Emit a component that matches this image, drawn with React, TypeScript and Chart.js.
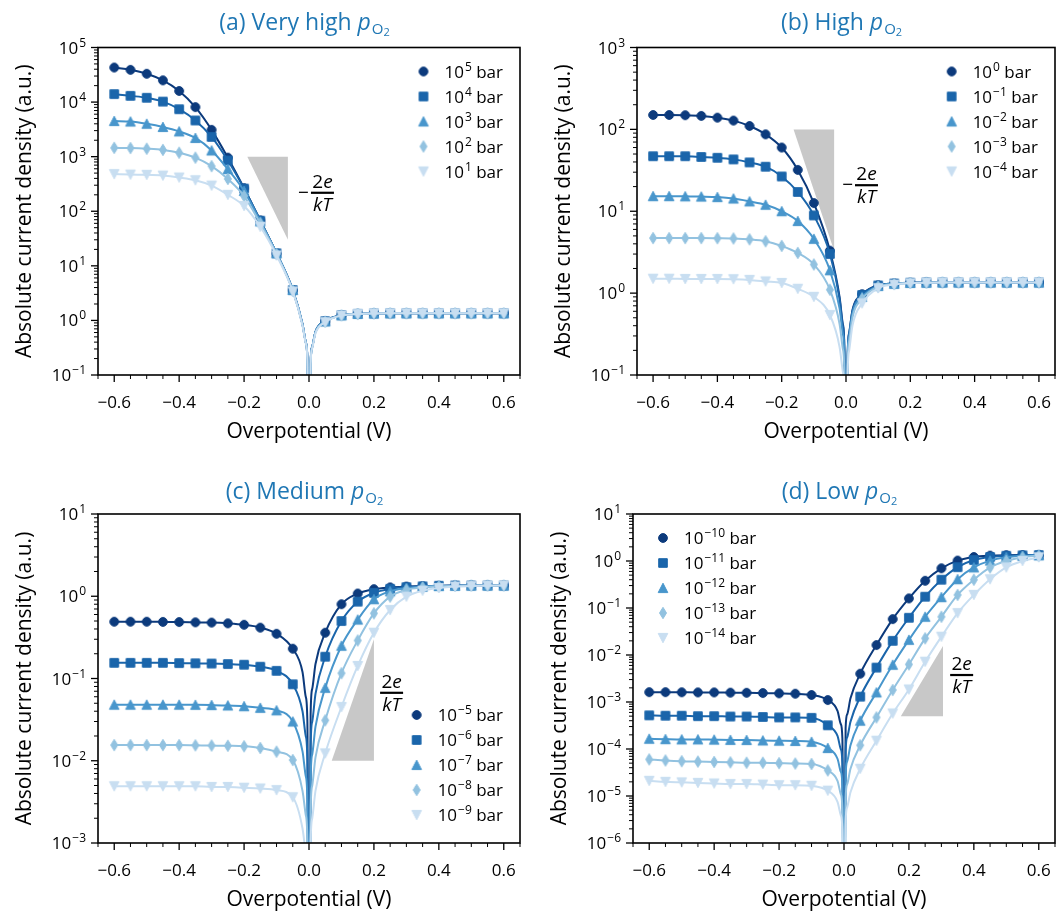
import React, { useEffect, useRef } from "react";
import { Chart, registerables } from "chart.js";
Chart.register(...registerables);

const FONT = "'Open Sans', 'DejaVu Sans', sans-serif";
const TITLE_COLOR = "#1f77b4";
const SERIES_COLORS = ["#0c3a7c", "#1a65ab", "#4896cc", "#92c2e0", "#c8def1"];
const SHAPES = ["circle", "square", "triangle", "diamond", "down"];

// ---------- shared axes ----------
const markerX = [-0.6, -0.55, -0.5, -0.45, -0.4, -0.35, -0.3, -0.25, -0.2, -0.15, -0.1, -0.05,
  0.05, 0.1, 0.15, 0.2, 0.25, 0.3, 0.35, 0.4, 0.45, 0.5, 0.55, 0.6];
const nearX = [-0.02, -0.01, -0.005, 0, 0.005, 0.01, 0.02];
const xMajorTicks = [-0.6, -0.4, -0.2, 0, 0.2, 0.4, 0.6];
const xTickLabels = ["\u22120.6", "\u22120.4", "\u22120.2", "0.0", "0.2", "0.4", "0.6"];
const xMinorTicks = [-0.65, -0.55, -0.5, -0.45, -0.35, -0.3, -0.25, -0.15, -0.1, -0.05,
  0.05, 0.1, 0.15, 0.25, 0.3, 0.35, 0.45, 0.5, 0.55, 0.65];

// ---------- (a) very high pO2 ----------
const aLegendExps = ["5", "4", "3", "2", "1"];
const aS1 = [43000, 39000, 33000, 25000, 16000, 8100, 3100, 960, 265, 68, 17, 3.6, 0.97, 1.25, 1.32, 1.34, 1.35, 1.35, 1.35, 1.35, 1.35, 1.35, 1.35, 1.35];
const aS2 = [14000, 13000, 12000, 10200, 7400, 4600, 2300, 850, 260, 67, 17, 3.6, 0.97, 1.25, 1.32, 1.34, 1.35, 1.35, 1.35, 1.35, 1.35, 1.35, 1.35, 1.35];
const aS3 = [4500, 4400, 4000, 3500, 2900, 2200, 1300, 590, 235, 65, 17, 3.6, 0.96, 1.24, 1.32, 1.34, 1.35, 1.35, 1.35, 1.35, 1.35, 1.35, 1.35, 1.35];
const aS4 = [1450, 1440, 1400, 1330, 1180, 960, 670, 390, 190, 60, 16.5, 3.5, 0.95, 1.24, 1.31, 1.34, 1.35, 1.35, 1.35, 1.35, 1.35, 1.35, 1.35, 1.35];
const aS5 = [480, 470, 465, 450, 415, 370, 295, 200, 125, 52, 15.5, 3.4, 0.93, 1.23, 1.31, 1.34, 1.35, 1.35, 1.35, 1.35, 1.35, 1.35, 1.35, 1.35];
const aN1 = [0.85, 0.4, 0.2, 1e-4, 0.17, 0.33, 0.62];
const aN2 = [0.85, 0.4, 0.2, 1e-4, 0.17, 0.33, 0.62];
const aN3 = [0.85, 0.4, 0.2, 1e-4, 0.17, 0.33, 0.62];
const aN4 = [0.83, 0.39, 0.19, 1e-4, 0.16, 0.32, 0.6];
const aN5 = [0.8, 0.38, 0.19, 1e-4, 0.16, 0.31, 0.58];
const aSlopeTriangle = [[-0.19, 1000], [-0.065, 1000], [-0.065, 30]];

// ---------- (b) high pO2 ----------
const bLegendExps = ["0", "\u22121", "\u22122", "\u22123", "\u22124"];
const bS1 = [150, 150, 149, 146, 139, 128, 110, 87, 60, 32, 12.6, 3.3, 0.97, 1.25, 1.31, 1.34, 1.35, 1.35, 1.35, 1.35, 1.35, 1.35, 1.35, 1.35];
const bS2 = [47, 47, 47, 46, 45, 43, 39.5, 35, 26.6, 17.2, 8.9, 3.0, 0.95, 1.24, 1.31, 1.34, 1.35, 1.35, 1.35, 1.35, 1.35, 1.35, 1.35, 1.35];
const bS3 = [15.3, 15.3, 15.2, 15.1, 14.9, 14.3, 13.2, 12.0, 10.0, 7.6, 4.6, 1.9, 0.9, 1.22, 1.3, 1.33, 1.34, 1.35, 1.35, 1.35, 1.35, 1.35, 1.35, 1.35];
const bS4 = [4.7, 4.7, 4.7, 4.7, 4.68, 4.65, 4.54, 4.3, 3.77, 3.1, 2.24, 1.1, 0.85, 1.2, 1.29, 1.33, 1.34, 1.35, 1.35, 1.35, 1.35, 1.35, 1.35, 1.35];
const bS5 = [1.5, 1.5, 1.49, 1.49, 1.49, 1.48, 1.45, 1.39, 1.33, 1.13, 0.9, 0.54, 0.75, 1.15, 1.27, 1.32, 1.34, 1.35, 1.35, 1.35, 1.35, 1.35, 1.35, 1.35];
const bN1 = [0.9, 0.42, 0.21, 1e-4, 0.17, 0.33, 0.62];
const bN2 = [0.85, 0.4, 0.2, 1e-4, 0.16, 0.32, 0.6];
const bN3 = [0.65, 0.32, 0.16, 1e-4, 0.15, 0.3, 0.56];
const bN4 = [0.42, 0.21, 0.105, 1e-4, 0.13, 0.26, 0.5];
const bN5 = [0.22, 0.11, 0.055, 1e-4, 0.1, 0.2, 0.4];
const bSlopeTriangle = [[-0.163, 100], [-0.037, 100], [-0.037, 3.3]];

// ---------- (c) medium pO2 ----------
const cLegendExps = ["\u22125", "\u22126", "\u22127", "\u22128", "\u22129"];
const cS1 = [0.49, 0.49, 0.49, 0.488, 0.486, 0.482, 0.478, 0.468, 0.45, 0.415, 0.35, 0.23, 0.36, 0.8, 1.08, 1.22, 1.28, 1.31, 1.33, 1.34, 1.35, 1.35, 1.35, 1.35];
const cS2 = [0.155, 0.155, 0.155, 0.155, 0.154, 0.153, 0.152, 0.15, 0.147, 0.139, 0.124, 0.085, 0.184, 0.5, 0.86, 1.1, 1.23, 1.29, 1.32, 1.34, 1.35, 1.35, 1.35, 1.35];
const cS3 = [0.048, 0.048, 0.048, 0.048, 0.048, 0.0478, 0.0475, 0.047, 0.046, 0.044, 0.041, 0.03, 0.077, 0.25, 0.52, 0.92, 1.15, 1.26, 1.31, 1.33, 1.34, 1.35, 1.35, 1.35];
const cS4 = [0.0155, 0.0155, 0.0155, 0.0155, 0.0155, 0.0154, 0.0153, 0.0152, 0.015, 0.0143, 0.0129, 0.0102, 0.031, 0.116, 0.29, 0.62, 0.99, 1.2, 1.28, 1.32, 1.34, 1.35, 1.35, 1.35];
const cS5 = [0.0049, 0.0049, 0.0049, 0.0049, 0.0049, 0.0049, 0.0048, 0.0048, 0.0047, 0.0046, 0.0044, 0.0036, 0.0123, 0.045, 0.142, 0.36, 0.68, 0.99, 1.17, 1.26, 1.31, 1.33, 1.34, 1.35];
const cN1 = [0.12, 0.06, 0.03, 1e-6, 0.037, 0.075, 0.15];
const cN2 = [0.04, 0.02, 0.01, 1e-6, 0.015, 0.03, 0.065];
const cN3 = [0.013, 0.0065, 0.0033, 1e-6, 0.006, 0.012, 0.026];
const cN4 = [0.0043, 0.0022, 0.0011, 1e-6, 0.0025, 0.005, 0.011];
const cN5 = [0.0015, 0.00075, 0.00038, 1e-6, 0.001, 0.002, 0.0043];
const cSlopeTriangle = [[0.07, 0.01], [0.2, 0.01], [0.2, 0.3]];

// ---------- (d) low pO2 ----------
const dLegendExps = ["\u221210", "\u221211", "\u221212", "\u221213", "\u221214"];
const dS1 = [1.62e-3, 1.62e-3, 1.61e-3, 1.6e-3, 1.6e-3, 1.58e-3, 1.57e-3, 1.55e-3, 1.53e-3, 1.5e-3, 1.41e-3, 1.1e-3, 4.0e-3, 0.0163, 0.058, 0.16, 0.38, 0.7, 1.02, 1.22, 1.3, 1.33, 1.34, 1.35];
const dS2 = [5.2e-4, 5.1e-4, 5.1e-4, 5.0e-4, 5.0e-4, 4.9e-4, 4.9e-4, 4.8e-4, 4.7e-4, 4.7e-4, 4.6e-4, 3.2e-4, 1.3e-3, 5.4e-3, 0.02, 0.062, 0.174, 0.4, 0.74, 1.05, 1.22, 1.29, 1.32, 1.34];
const dS3 = [1.65e-4, 1.62e-4, 1.6e-4, 1.6e-4, 1.58e-4, 1.56e-4, 1.55e-4, 1.52e-4, 1.5e-4, 1.48e-4, 1.42e-4, 1.05e-4, 4.0e-4, 1.6e-3, 6.2e-3, 0.021, 0.065, 0.17, 0.41, 0.73, 1.02, 1.2, 1.29, 1.32];
const dS4 = [6.0e-5, 5.7e-5, 5.5e-5, 5.4e-5, 5.3e-5, 5.2e-5, 5.1e-5, 5.1e-5, 5.0e-5, 4.9e-5, 4.8e-5, 3.5e-5, 1.2e-4, 4.7e-4, 1.8e-3, 6.3e-3, 0.0226, 0.065, 0.19, 0.4, 0.73, 1.0, 1.2, 1.3];
const dS5 = [2.1e-5, 2.0e-5, 1.95e-5, 1.9e-5, 1.85e-5, 1.8e-5, 1.8e-5, 1.75e-5, 1.7e-5, 1.7e-5, 1.65e-5, 1.3e-5, 3.8e-5, 1.5e-4, 5.7e-4, 1.85e-3, 7.2e-3, 0.0245, 0.078, 0.19, 0.41, 0.73, 1.0, 1.2];
const dN1 = [6.5e-4, 3.4e-4, 1.7e-4, 1e-9, 2.8e-4, 5.5e-4, 1.2e-3];
const dN2 = [1.9e-4, 1.0e-4, 5e-5, 1e-9, 9e-5, 1.8e-4, 3.8e-4];
const dN3 = [6.2e-5, 3.3e-5, 1.65e-5, 1e-9, 2.8e-5, 5.5e-5, 1.2e-4];
const dN4 = [2.1e-5, 1.1e-5, 5.5e-6, 1e-9, 9e-6, 1.8e-5, 3.8e-5];
const dN5 = [7.5e-6, 3.9e-6, 1.95e-6, 1e-9, 2.9e-6, 5.8e-6, 1.2e-5];
const dSlopeTriangle = [[0.175, 5e-4], [0.305, 5e-4], [0.305, 0.0155]];

type Panel = {
  letter: string; name: string; left: number; top: number;
  padding: { left: number; top: number; right: number; bottom: number };
  minExp: number; maxExp: number;
  series: number[][]; near: number[][]; exps: string[];
  legend: "upper right" | "lower right" | "upper left";
  tri: number[][]; frac: { x: number; y: number; minus: boolean };
  titleGap: number;
};

const PANELS: Panel[] = [
  { letter: "a", name: "Very high", left: 0, top: 0, padding: { left: 98, top: 47.5, right: 10, bottom: 83 },
    minExp: -1, maxExp: 5, series: [aS1, aS2, aS3, aS4, aS5], near: [aN1, aN2, aN3, aN4, aN5], exps: aLegendExps,
    legend: "upper right", tri: aSlopeTriangle, frac: { x: 0.006, y: 218, minus: true }, titleGap: 18 },
  { letter: "b", name: "High", left: 530, top: 0, padding: { left: 107, top: 47.5, right: 1, bottom: 83 },
    minExp: -1, maxExp: 3, series: [bS1, bS2, bS3, bS4, bS5], near: [bN1, bN2, bN3, bN4, bN5], exps: bLegendExps,
    legend: "upper right", tri: bSlopeTriangle, frac: { x: 0.028, y: 20.8, minus: true }, titleGap: 18 },
  { letter: "c", name: "Medium", left: 0, top: 458, padding: { left: 98, top: 56, right: 10, bottom: 73 },
    minExp: -3, maxExp: 1, series: [cS1, cS2, cS3, cS4, cS5], near: [cN1, cN2, cN3, cN4, cN5], exps: cLegendExps,
    legend: "lower right", tri: cSlopeTriangle, frac: { x: 0.219, y: 0.067, minus: false }, titleGap: 15 },
  { letter: "d", name: "Low", left: 530, top: 458, padding: { left: 103, top: 56, right: 1, bottom: 73 },
    minExp: -6, maxExp: 1, series: [dS1, dS2, dS3, dS4, dS5], near: [dN1, dN2, dN3, dN4, dN5], exps: dLegendExps,
    legend: "upper left", tri: dSlopeTriangle, frac: { x: 0.327, y: 3.75e-3, minus: false }, titleGap: 15 },
];

function markerCanvas(shape: string, color: string): HTMLCanvasElement {
  const c = document.createElement("canvas");
  c.width = 16; c.height = 16;
  const g = c.getContext("2d")!;
  g.fillStyle = color; g.strokeStyle = color; g.lineWidth = 1;
  const cx = 8, cy = 8;
  g.beginPath();
  if (shape === "circle") g.arc(cx, cy, 4.4, 0, Math.PI * 2);
  else if (shape === "square") g.rect(cx - 4.3, cy - 4.3, 8.6, 8.6);
  else if (shape === "triangle") { g.moveTo(cx, cy - 4.8); g.lineTo(cx + 4.8, cy + 4.6); g.lineTo(cx - 4.8, cy + 4.6); g.closePath(); }
  else if (shape === "diamond") { g.moveTo(cx, cy - 5.7); g.lineTo(cx + 3.5, cy); g.lineTo(cx, cy + 5.7); g.lineTo(cx - 3.5, cy); g.closePath(); }
  else { g.moveTo(cx, cy + 4.8); g.lineTo(cx + 4.8, cy - 4.6); g.lineTo(cx - 4.8, cy - 4.6); g.closePath(); }
  g.fill(); g.stroke();
  return c;
}

function buildPoints(vals: number[], near: number[]) {
  const pts: { x: number; y: number; m: boolean }[] = markerX.map((x, i) => ({ x, y: vals[i], m: true }));
  nearX.forEach((x, i) => pts.push({ x, y: near[i], m: false }));
  pts.sort((p, q) => p.x - q.x);
  return pts;
}

function line(ctx: CanvasRenderingContext2D, x1: number, y1: number, x2: number, y2: number) {
  ctx.beginPath(); ctx.moveTo(x1, y1); ctx.lineTo(x2, y2); ctx.stroke();
}

function makeDecor(p: Panel, markers: HTMLCanvasElement[]) {
  return {
    id: "decor",
    beforeDatasetsDraw(chart: any) {
      const { ctx } = chart;
      const xs = chart.scales.x, ys = chart.scales.y;
      ctx.save();
      ctx.fillStyle = "#c8c8c8";
      ctx.beginPath();
      p.tri.forEach(([tx, ty], i) => {
        const px = xs.getPixelForValue(tx), py = ys.getPixelForValue(ty);
        if (i === 0) ctx.moveTo(px, py); else ctx.lineTo(px, py);
      });
      ctx.closePath(); ctx.fill();
      ctx.restore();
    },
    afterDatasetsDraw(chart: any) {
      const ctx: CanvasRenderingContext2D = chart.ctx;
      const { left, right, top, bottom } = chart.chartArea;
      const xs = chart.scales.x, ys = chart.scales.y;
      ctx.save();
      ctx.strokeStyle = "#000"; ctx.fillStyle = "#000";
      // frame
      ctx.lineWidth = 1.6;
      ctx.strokeRect(left, top, right - left, bottom - top);
      // x ticks
      ctx.lineWidth = 1.3;
      xMajorTicks.forEach((v) => { const px = xs.getPixelForValue(v); line(ctx, px, bottom, px, bottom + 7); });
      ctx.lineWidth = 1;
      xMinorTicks.forEach((v) => { const px = xs.getPixelForValue(v); line(ctx, px, bottom, px, bottom + 4); });
      // y ticks
      for (let e = p.minExp; e <= p.maxExp; e++) {
        const py = ys.getPixelForValue(Math.pow(10, e));
        ctx.lineWidth = 1.3; line(ctx, left, py, left - 7, py);
        if (e < p.maxExp) {
          ctx.lineWidth = 1;
          for (let k = 2; k <= 9; k++) {
            const pm = ys.getPixelForValue(k * Math.pow(10, e));
            line(ctx, left, pm, left - 4, pm);
          }
        }
      }
      // x tick labels
      ctx.font = `17px ${FONT}`; ctx.textAlign = "center"; ctx.textBaseline = "alphabetic";
      xMajorTicks.forEach((v, i) => ctx.fillText(xTickLabels[i], xs.getPixelForValue(v), bottom + 33));
      // y tick labels
      ctx.textAlign = "left";
      for (let e = p.minExp; e <= p.maxExp; e++) {
        const py = ys.getPixelForValue(Math.pow(10, e));
        const sup = e < 0 ? "\u2212" + Math.abs(e) : String(e);
        ctx.font = `17px ${FONT}`; const w1 = ctx.measureText("10").width;
        ctx.font = `12px ${FONT}`; const w2 = ctx.measureText(sup).width;
        const x0 = left - 12 - w1 - w2 - 1;
        ctx.font = `17px ${FONT}`; ctx.fillText("10", x0, py + 6);
        ctx.font = `12px ${FONT}`; ctx.fillText(sup, x0 + w1 + 1, py - 1);
      }
      // axis titles
      ctx.font = `21px ${FONT}`; ctx.textAlign = "center";
      ctx.fillText("Overpotential (V)", (left + right) / 2, bottom + 63);
      ctx.save();
      ctx.translate(left - 67, (top + bottom) / 2);
      ctx.rotate(-Math.PI / 2);
      ctx.fillText("Absolute current density (a.u.)", 0, 0);
      ctx.restore();
      // panel title
      {
        const main = `(${p.letter}) ${p.name} `;
        ctx.textAlign = "left";
        ctx.font = `23px ${FONT}`; const w1 = ctx.measureText(main).width;
        ctx.font = `italic 23px ${FONT}`; const wp = ctx.measureText("p").width;
        ctx.font = `15px ${FONT}`; const wo = ctx.measureText("O").width;
        ctx.font = `11px ${FONT}`; const w2 = ctx.measureText("2").width;
        const x0 = (left + right) / 2 - 5 - (w1 + wp + wo + w2) / 2;
        const by = top - p.titleGap;
        ctx.fillStyle = TITLE_COLOR;
        ctx.font = `23px ${FONT}`; ctx.fillText(main, x0, by);
        ctx.font = `italic 23px ${FONT}`; ctx.fillText("p", x0 + w1, by);
        ctx.font = `15px ${FONT}`; ctx.fillText("O", x0 + w1 + wp + 1, by + 4);
        ctx.font = `11px ${FONT}`; ctx.fillText("2", x0 + w1 + wp + wo + 1, by + 6);
        ctx.fillStyle = "#000";
      }
      // legend
      {
        const widths = p.exps.map((s) => {
          ctx.font = `17px ${FONT}`; const a = ctx.measureText("10").width + ctx.measureText(" bar").width;
          ctx.font = `12px ${FONT}`; return a + ctx.measureText(s).width + 1;
        });
        const maxW = Math.max(...widths);
        let tx: number;
        if (p.legend === "upper left") tx = left + 51;
        else tx = right - 17 - maxW;
        const mx = tx - 21;
        p.exps.forEach((s, i) => {
          const ry = p.legend === "lower right" ? bottom - 28 - 25 * (p.exps.length - 1 - i) : top + 24 + 25 * i;
          ctx.drawImage(markers[i], mx - 8, ry - 8);
          ctx.textAlign = "left";
          ctx.font = `17px ${FONT}`; const w10 = ctx.measureText("10").width;
          ctx.fillText("10", tx, ry + 6);
          ctx.font = `12px ${FONT}`; const ws = ctx.measureText(s).width;
          ctx.fillText(s, tx + w10 + 1, ry - 1);
          ctx.font = `17px ${FONT}`; ctx.fillText(" bar", tx + w10 + ws + 1, ry + 6);
        });
      }
      // slope fraction
      {
        const bx = xs.getPixelForValue(p.frac.x), by = ys.getPixelForValue(p.frac.y);
        const bw = 23;
        ctx.lineWidth = 2.2; line(ctx, bx, by, bx + bw, by);
        const cx = bx + bw / 2;
        ctx.textAlign = "left";
        ctx.font = `19px ${FONT}`; const w2 = ctx.measureText("2").width;
        ctx.font = `italic 19px ${FONT}`; const we = ctx.measureText("e").width;
        const x0 = cx - (w2 + we) / 2;
        ctx.font = `19px ${FONT}`; ctx.fillText("2", x0, by - 5);
        ctx.font = `italic 19px ${FONT}`; ctx.fillText("e", x0 + w2, by - 5);
        const wkt = ctx.measureText("kT").width;
        ctx.fillText("kT", cx - wkt / 2, by + 18);
        if (p.frac.minus) {
          ctx.font = `19px ${FONT}`; ctx.textAlign = "right";
          ctx.fillText("\u2212", bx - 2, by + 6);
        }
      }
      ctx.restore();
    },
  };
}

function PanelChart({ panel }: { panel: Panel }) {
  const ref = useRef<HTMLCanvasElement>(null);
  useEffect(() => {
    const canvas = ref.current!;
    const markers = SHAPES.map((s, k) => markerCanvas(s, SERIES_COLORS[k]));
    const datasets = panel.series.map((vals, k) => ({
      label: "10^" + panel.exps[k] + " bar",
      data: buildPoints(vals, panel.near[k]),
      borderColor: SERIES_COLORS[k],
      backgroundColor: SERIES_COLORS[k],
      borderWidth: 2,
      pointStyle: markers[k],
      pointRadius: (c: any) => (c.raw && c.raw.m ? 5 : 0),
      pointHoverRadius: 0,
      pointBorderWidth: 0,
      fill: false,
      cubicInterpolationMode: "monotone",
      order: 4 - k,
    }));
    const chart = new Chart(canvas, {
      type: "line",
      data: { datasets } as any,
      options: {
        animation: false,
        responsive: false,
        maintainAspectRatio: false,
        devicePixelRatio: 1,
        events: [],
        layout: { padding: panel.padding },
        plugins: { legend: { display: false }, title: { display: false }, tooltip: { enabled: false } },
        scales: {
          x: { type: "linear", min: -0.65, max: 0.65, display: false },
          y: { type: "logarithmic", min: Math.pow(10, panel.minExp), max: Math.pow(10, panel.maxExp), display: false },
        },
      } as any,
      plugins: [makeDecor(panel, markers) as any],
    });
    return () => chart.destroy();
  }, []);
  return (
    <canvas ref={ref} width={530} height={458}
      style={{ position: "absolute", left: panel.left, top: panel.top, width: 530, height: 458 }} />
  );
}

export default function App() {
  return (
    <div style={{ position: "absolute", left: 0, top: 0, width: 1060, height: 916, background: "#fff" }}>
      {PANELS.map((p) => <PanelChart key={p.letter} panel={p} />)}
    </div>
  );
}
